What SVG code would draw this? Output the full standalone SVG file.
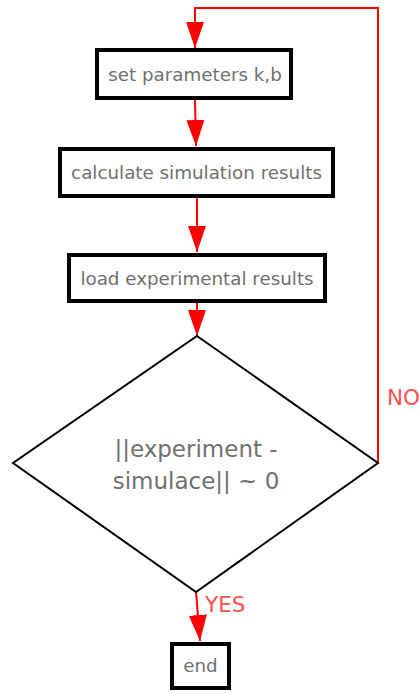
<svg xmlns="http://www.w3.org/2000/svg" width="419" height="694" viewBox="0 0 419 694">
<style>
.box{fill:#fff;stroke:#000;stroke-width:4}
.dia{fill:#fff;stroke:#000;stroke-width:2}
.t{font-family:"DejaVu Sans",sans-serif;fill:#707070;text-anchor:middle}
.c{fill:none;stroke:#ff0000;stroke-width:2}
.lbl{font-family:"DejaVu Sans",sans-serif;fill:#ff5050;font-size:21.5px}
</style>
<defs>
<marker id="ah" markerWidth="26" markerHeight="18" refX="26" refY="9" orient="auto" markerUnits="userSpaceOnUse" viewBox="0 0 26 18">
<path d="M0,0 L26,9 L0,18 Z" fill="#ff0000"/>
</marker>
</defs>
<rect width="419" height="694" fill="#fff"/>
<g id="connectors">
<path class="c" d="M378,463 L378,8 L195,8 L195,48" marker-end="url(#ah)"/>
<path class="c" d="M195,100 L196,146" marker-end="url(#ah)"/>
<path class="c" d="M197,198 L197,252" marker-end="url(#ah)"/>
<path class="c" d="M197,303 L197,336" marker-end="url(#ah)"/>
<path class="c" d="M196,592 L200,641" marker-end="url(#ah)"/>
<text class="lbl" x="387" y="405">NO</text>
<text class="lbl" x="205" y="612">YES</text>
</g>
<g id="n1">
<rect class="box" x="97" y="50" width="194" height="48"/>
<text class="t" x="195" y="81" font-size="18.3">set parameters k,b</text>
</g>
<g id="n2">
<rect class="box" x="60" y="149" width="273" height="47"/>
<text class="t" x="196.5" y="179" font-size="18.3">calculate simulation results</text>
</g>
<g id="n3">
<rect class="box" x="69" y="255" width="256" height="46"/>
<text class="t" x="197" y="285" font-size="18.3">load experimental results</text>
</g>
<g id="n4">
<polygon class="dia" points="197,336 378,463 196,592 13,463"/>
<text class="t" x="196" y="457" font-size="23">||experiment -</text>
<text class="t" x="196" y="489" font-size="23">simulace|| ~ 0</text>
</g>
<g id="n5">
<rect class="box" x="172" y="644" width="57" height="44"/>
<text class="t" x="200.5" y="672" font-size="18.3">end</text>
</g>
</svg>
